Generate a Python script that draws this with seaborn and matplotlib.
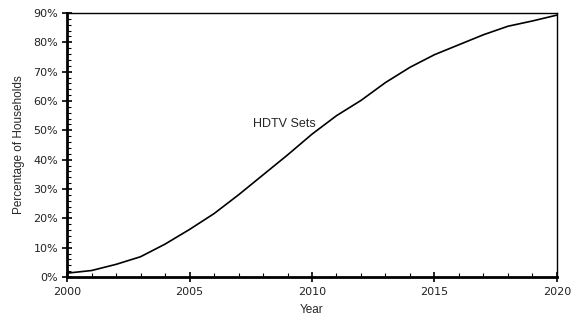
import matplotlib
matplotlib.use('Agg')
import matplotlib.pyplot as plt
import matplotlib.ticker as mticker
import seaborn as sns
import pandas as pd

years = list(range(2000, 2021))
hdtv_pct = [1.3, 2.2, 4.3, 6.9, 11.2, 16.2, 21.6, 28.0, 34.8, 41.6, 48.7,
            55.0, 60.2, 66.3, 71.5, 75.8, 79.2, 82.6, 85.5, 87.3, 89.3]
series_label = 'HDTV Sets'

df = pd.DataFrame({'Year': years, 'Pct': hdtv_pct})

sns.set_style('ticks')
plt.rcParams['font.family'] = ['Liberation Sans', 'DejaVu Sans']

fig = plt.figure(figsize=(5.73, 3.18), dpi=100)
ax = fig.add_axes([0.117, 0.129, 0.855, 0.830])

sns.lineplot(data=df, x='Year', y='Pct', color='black', linewidth=1.2, ax=ax)

ax.set_xlim(2000, 2020)
ax.set_ylim(0, 90)
ax.xaxis.set_major_locator(mticker.MultipleLocator(5))
ax.xaxis.set_minor_locator(mticker.MultipleLocator(1))
ax.yaxis.set_major_locator(mticker.MultipleLocator(10))
ax.yaxis.set_minor_locator(mticker.MultipleLocator(2))
ax.yaxis.set_major_formatter(mticker.FuncFormatter(lambda v, p: f'{int(v)}%'))

ax.tick_params(which='major', direction='inout', length=7, width=1.2,
               labelsize=8, colors='black', pad=3)
ax.tick_params(axis='x', which='major', pad=4)
ax.tick_params(which='minor', direction='in', length=3, width=0.8, colors='black')
for lab in ax.get_xticklabels() + ax.get_yticklabels():
    lab.set_family('DejaVu Sans')
    lab.set_color('#222222')

for side in ['left', 'bottom']:
    ax.spines[side].set_linewidth(2)
for side in ['top', 'right']:
    ax.spines[side].set_linewidth(1)
    ax.spines[side].set_visible(True)
for s in ax.spines.values():
    s.set_color('black')

ax.set_xlabel('Year', fontsize=8.5, labelpad=5)
ax.set_ylabel('Percentage of Households', fontsize=8.5, labelpad=6)

ax.text(2007.6, 52.2, series_label, fontsize=9, va='center', ha='left')

fig.savefig('out.png', dpi=100)
